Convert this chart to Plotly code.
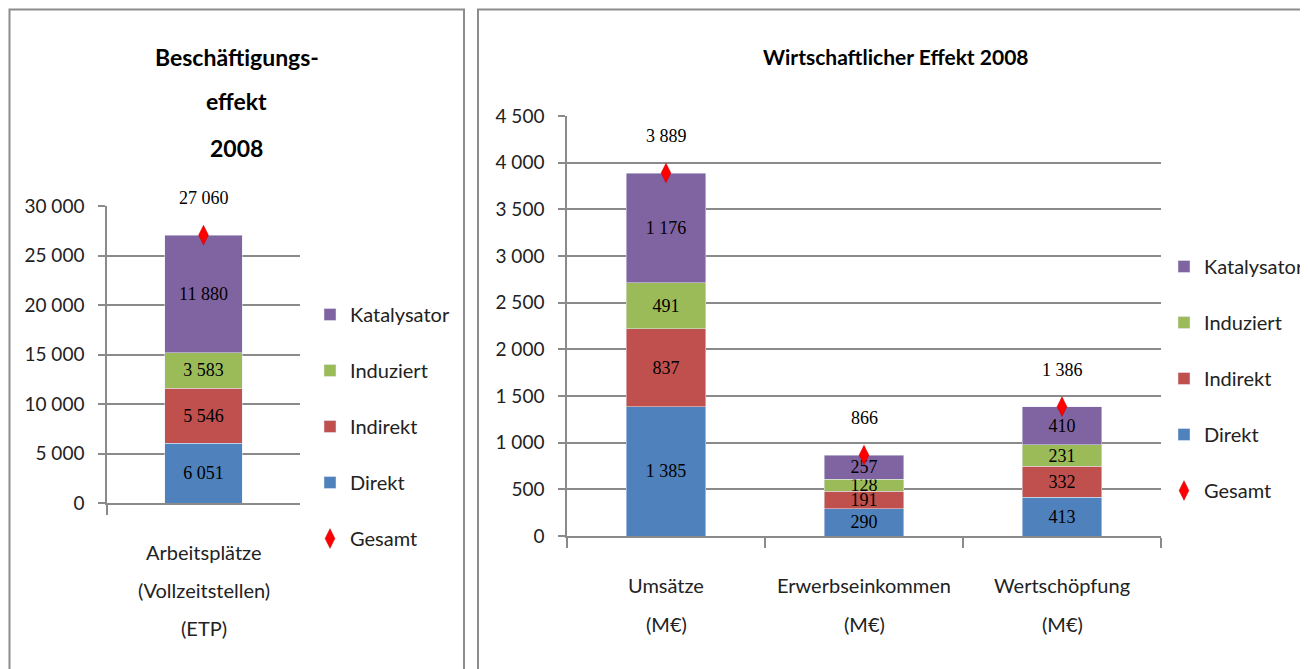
import plotly.graph_objects as go

W, H = 1308, 669

series = ["Direkt", "Indirekt", "Induziert", "Katalysator"]
colors = ["#4F81BD", "#C0504D", "#9BBB59", "#8064A2"]
ranks = [4, 3, 2, 1]

# left chart: employment effect
jobs_cat = ["Arbeitsplätze"]
jobs_lines = [["Arbeitsplätze", "(Vollzeitstellen)", "(ETP)"]]
jobs_vals = {
    "Direkt": [6051],
    "Indirekt": [5546],
    "Induziert": [3583],
    "Katalysator": [11880],
}
jobs_total = [27060]

# right chart: economic effect
eco_cat = ["Umsätze", "Erwerbseinkommen", "Wertschöpfung"]
eco_lines = [["Umsätze", "(M€)"], ["Erwerbseinkommen", "(M€)"], ["Wertschöpfung", "(M€)"]]
eco_vals = {
    "Direkt": [1385, 290, 413],
    "Indirekt": [837, 191, 332],
    "Induziert": [491, 128, 231],
    "Katalysator": [1176, 257, 410],
}
eco_total = [3889, 866, 1386]

SANS = "Lato, DejaVu Sans Condensed, sans-serif"
SERIF = "Liberation Serif, serif"
GRID = "#8a8a8a"
OFF = 8  # page body margin


def px_x(p):
    return (p - OFF) / W


def px_y(p):
    return 1 - (p - OFF) / H


fig = go.Figure()

for name, color, rank in zip(series, colors, ranks):
    fig.add_trace(
        go.Bar(
            x=jobs_cat, y=jobs_vals[name], name=name, marker_color=color,
            xaxis="x", yaxis="y", legend="legend", legendrank=rank,
            legendgroup=name, texttemplate="%{y:,}", textposition="inside",
            insidetextanchor="middle", constraintext="none", textangle=0,
            textfont=dict(family=SERIF, size=18, color="black"),
        )
    )
    fig.add_trace(
        go.Bar(
            x=eco_cat, y=eco_vals[name], name=name, marker_color=color,
            xaxis="x2", yaxis="y2", legend="legend2", legendrank=rank,
            legendgroup=name, texttemplate="%{y:,}", textposition="inside",
            insidetextanchor="middle", constraintext="none", textangle=0,
            textfont=dict(family=SERIF, size=18, color="black"),
        )
    )

diamond = dict(symbol="diamond-tall", size=14, color="#FF0000", line=dict(color="#C00000", width=0.5))
fig.add_trace(go.Scatter(x=jobs_cat, y=jobs_total, mode="markers", name="Gesamt", marker=diamond,
                         xaxis="x", yaxis="y", legend="legend", legendrank=5, legendgroup="Gesamt"))
fig.add_trace(go.Scatter(x=eco_cat, y=eco_total, mode="markers", name="Gesamt", marker=diamond,
                         xaxis="x2", yaxis="y2", legend="legend2", legendrank=5, legendgroup="Gesamt"))

annotations = []
for xr, cats, totals in [("x", jobs_cat, jobs_total), ("x2", eco_cat, eco_total)]:
    for c, t in zip(cats, totals):
        annotations.append(dict(
            x=c, y=t, xref=xr, yref="y" if xr == "x" else "y2", yshift=37, showarrow=False,
            xanchor="center", yanchor="middle",
            text=f"{t:,}".replace(",", " "), font=dict(family=SERIF, size=18, color="black"),
        ))

# category labels under the axes
for xr, cats, lines, top, gap in [("x", jobs_cat, jobs_lines, 552, 38), ("x2", eco_cat, eco_lines, 585, 39)]:
    for c, ls in zip(cats, lines):
        for i, line in enumerate(ls):
            annotations.append(dict(
                x=c, xref=xr, y=px_y(top + i * gap), yref="paper", showarrow=False,
                xanchor="center", yanchor="middle",
                text=line, font=dict(family=SANS, size=20, color="#222222"),
            ))

for i, line in enumerate(["Beschäftigungs-", "effekt", "2008"]):
    annotations.append(dict(
        x=px_x(237), y=px_y([57, 101, 148][i]), xref="paper", yref="paper", showarrow=False,
        xanchor="center", yanchor="middle",
        text=f"<b>{line}</b>", font=dict(family=SANS, size=23, color="black"),
    ))
annotations.append(dict(
    x=px_x(896), y=px_y(57), xref="paper", yref="paper", showarrow=False,
    xanchor="center", yanchor="middle",
    text="<b>Wirtschaftlicher Effekt 2008</b>", font=dict(family=SANS, size=21, color="black"),
))

yaxis_common = dict(
    showgrid=True, gridcolor=GRID, gridwidth=1.5, zeroline=False, showline=True,
    linecolor=GRID, linewidth=1.5, ticks="outside", ticklen=7, tickcolor=GRID, tickwidth=1.5,
    tickformat=",d", tickfont=dict(family=SANS, size=19, color="#222222"), ticklabelstandoff=10,
)
xaxis_common = dict(
    showline=True, linecolor=GRID, linewidth=1.5, ticks="outside", tickson="boundaries",
    ticklen=10, tickcolor=GRID, tickwidth=1.5, showticklabels=False, showgrid=False,
)

legend_common = dict(
    font=dict(family=SANS, size=20, color="#222222"), tracegroupgap=27,
    bgcolor="rgba(0,0,0,0)", yanchor="top", xanchor="left",
)

fig.update_layout(
    width=W, height=H, margin=dict(l=0, r=0, t=0, b=0, autoexpand=False),
    paper_bgcolor="white", plot_bgcolor="white",
    barmode="stack", bargap=0.6, separators=", ",
    xaxis=dict(domain=[px_x(107), px_x(300)], anchor="y", **xaxis_common),
    yaxis=dict(domain=[px_y(503), px_y(206)], anchor="x", range=[0, 30000], dtick=5000, **yaxis_common),
    xaxis2=dict(domain=[px_x(567), px_x(1161)], anchor="y2", **xaxis_common),
    yaxis2=dict(domain=[px_y(536), px_y(116)], anchor="x2", range=[0, 4500], dtick=500, **yaxis_common),
    legend=dict(x=px_x(310), y=px_y(295), **legend_common),
    legend2=dict(x=px_x(1164), y=px_y(247), **legend_common),
    annotations=annotations,
    shapes=[
        dict(type="rect", xref="paper", yref="paper", x0=px_x(9.5), x1=px_x(464), y0=-0.1, y1=px_y(9.5),
             line=dict(color="#8c8c8c", width=2)),
        dict(type="rect", xref="paper", yref="paper", x0=px_x(478), x1=1.1, y0=-0.1, y1=px_y(9.5),
             line=dict(color="#8c8c8c", width=2)),
    ],
    showlegend=True,
)

fig.write_html("out.html")
